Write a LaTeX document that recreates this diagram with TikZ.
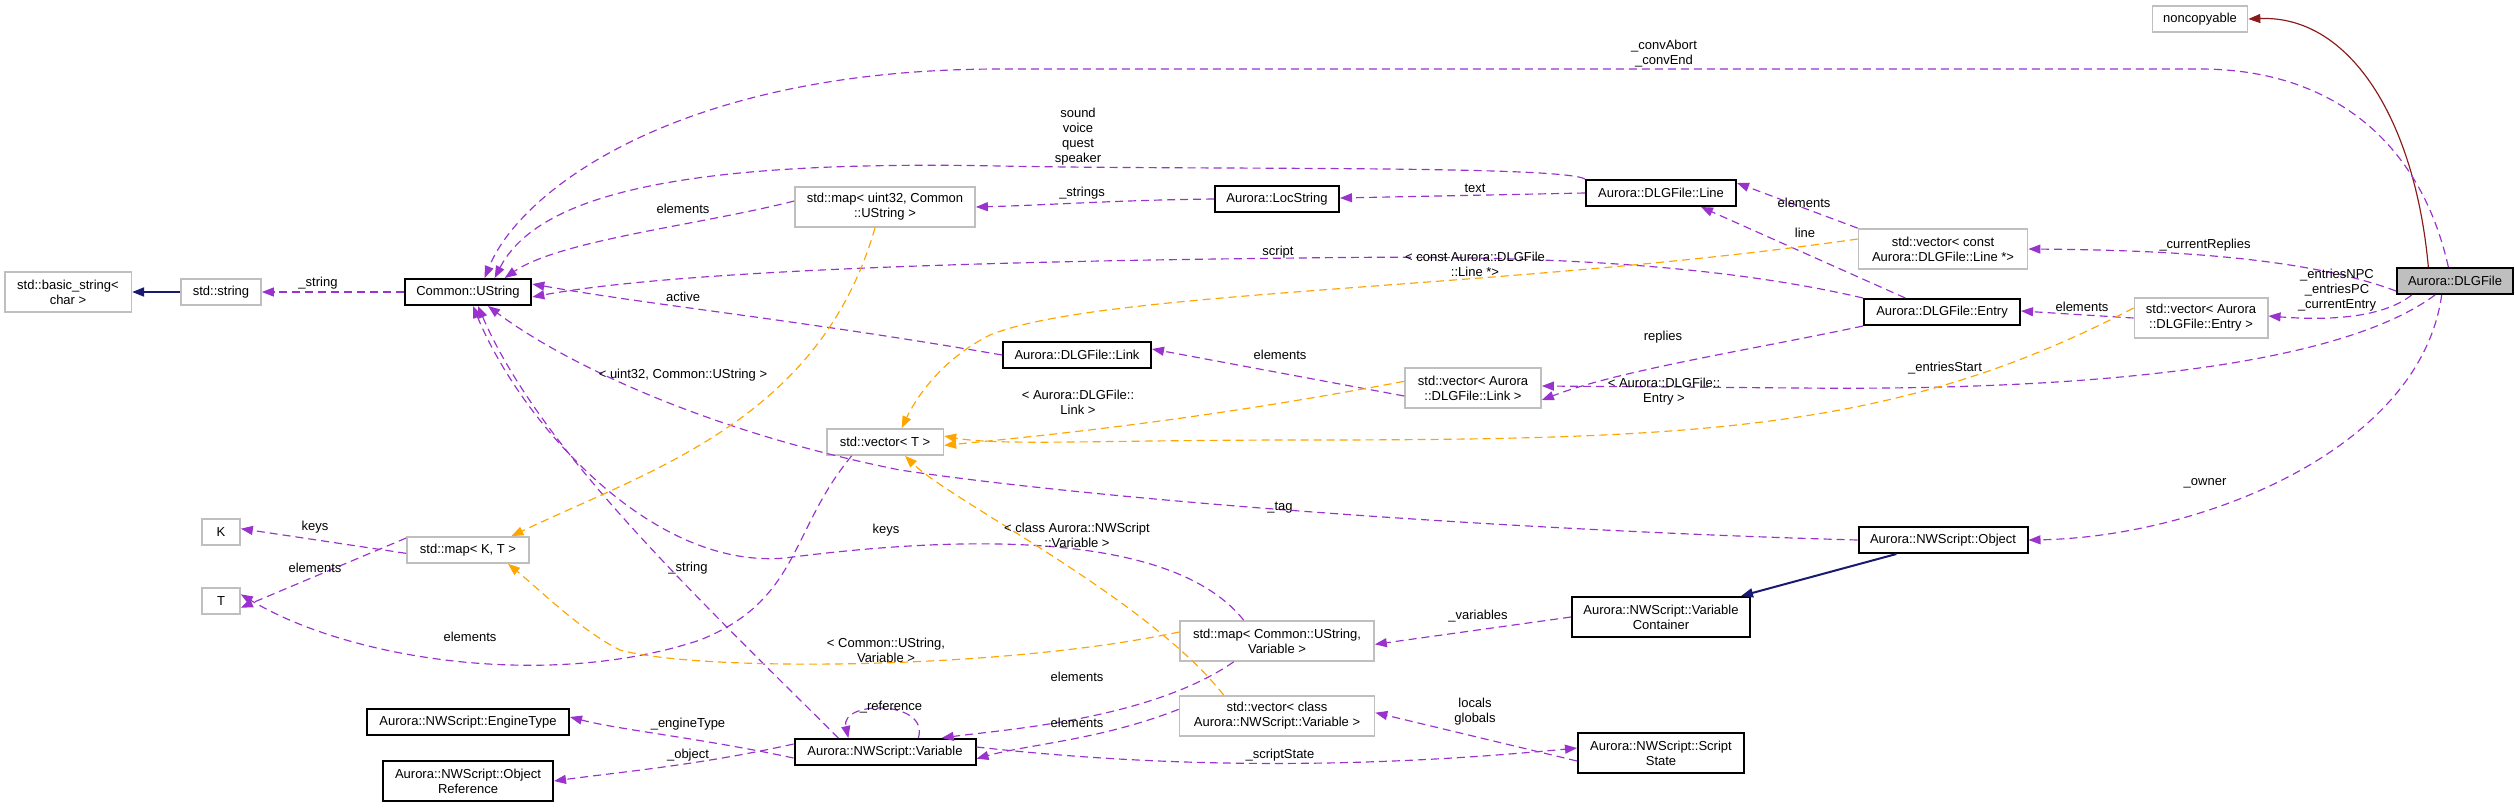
\documentclass[tikz,border=0pt]{standalone}
\usepackage{fontspec}
\setmainfont{Liberation Sans}
\usetikzlibrary{arrows.meta}
\definecolor{usecol}{HTML}{9A32CD}
\definecolor{tplcol}{HTML}{FFA500}
\definecolor{inhcol}{HTML}{191970}
\definecolor{privcol}{HTML}{8B1A1A}
\definecolor{boxgray}{HTML}{BFBFBF}
\newcommand{\lblfont}{\fontsize{3.9}{4.5}\selectfont}
\tikzset{every picture/.style={line width=0.35pt}}

\begin{document}
\begin{tikzpicture}[x=0.3pt,y=0.3pt,yscale=-1,
  box/.style={draw,inner sep=0.5pt,minimum height=7.8pt,align=center,font=\lblfont},
  cls/.style={box,draw=black,line width=0.6pt},
  tpl/.style={box,draw=boxgray,line width=0.5pt},
  self/.style={box,draw=black,fill=boxgray,line width=0.6pt},
  tall/.style={minimum height=12pt},
  lab/.style={inner sep=0pt,align=center,font=\lblfont},
  tip/.style={-{Triangle[length=3.6pt,width=2.7pt]}},
  use/.style={tip,draw=usecol,dash pattern={on 2.4pt off 1.5pt}},
  tmpl/.style={tip,draw=tplcol,dash pattern={on 2.4pt off 1.5pt}},
  inh/.style={tip,draw=inhcol,line width=0.6pt},
  priv/.style={tip,draw=privcol}]
	\useasboundingbox (0,0) rectangle (2515,807);
	
	% classes
	\node [tpl,minimum width=28.5pt] (noncop) at (2200,19) {noncopyable};
	\node [self,minimum width=34.8pt] (dlg) at (2455,281) {Aurora::DLGFile};
	\node [tpl,tall,minimum width=38pt] (bstr) at (68,292) {std::basic\_string\textless\\ char \textgreater};
	\node [tpl,minimum width=24pt] (sstr) at (221,292) {std::string};
	\node [cls,minimum width=38pt] (ustr) at (468,292) {Common::UString};
	\node [tpl,tall,minimum width=54pt] (mapu) at (885,207) {std::map\textless{} uint32, Common\\::UString \textgreater};
	\node [tpl,minimum width=35pt] (vecT) at (885,442) {std::vector\textless{} T \textgreater};
	\node [tpl,minimum width=11.4pt] (kk) at (221,532) {K};
	\node [tpl,minimum width=36.6pt] (mapkt) at (468,550) {std::map\textless{} K, T \textgreater};
	\node [tpl,minimum width=11.4pt] (tt) at (221,601) {T};
	\node [cls,minimum width=60.6pt] (etype) at (468,722) {Aurora::NWScript::EngineType};
	\node [cls,tall,minimum width=51pt] (oref) at (468,781) {Aurora::NWScript::Object\\Reference};
	\node [cls,minimum width=54.3pt] (var) at (885,752) {Aurora::NWScript::Variable};
	\node [cls,minimum width=37.2pt] (loc) at (1277,199) {Aurora::LocString};
	\node [cls,minimum width=45pt] (line) at (1661,193) {Aurora::DLGFile::Line};
	\node [tpl,tall,minimum width=50.7pt] (vline) at (1943,249) {std::vector\textless{} const\\ Aurora::DLGFile::Line *\textgreater};
	\node [cls,minimum width=46.8pt] (entry) at (1942,312) {Aurora::DLGFile::Entry};
	\node [tpl,tall,minimum width=40pt] (ventry) at (2201,318) {std::vector\textless{} Aurora\\::DLGFile::Entry \textgreater};
	\node [cls,minimum width=44.4pt] (link) at (1077,355) {Aurora::DLGFile::Link};
	\node [tpl,tall,minimum width=40.8pt] (vlink) at (1473,388) {std::vector\textless{} Aurora\\::DLGFile::Link \textgreater};
	\node [cls,minimum width=50.7pt] (obj) at (1943,540) {Aurora::NWScript::Object};
	\node [cls,tall,minimum width=53.4pt] (vcont) at (1661,617) {Aurora::NWScript::Variable\\Container};
	\node [tpl,tall,minimum width=58.2pt] (mapv) at (1277,641) {std::map\textless{} Common::UString,\\ Variable \textgreater};
	\node [tpl,tall,minimum width=58.5pt] (vvar) at (1277,716) {std::vector\textless{} class\\ Aurora::NWScript::Variable \textgreater};
	\node [cls,tall,minimum width=49.8pt] (sstate) at (1661,753) {Aurora::NWScript::Script\\State};
	
	% inheritance
	\draw [priv] ([xshift=-8pt]dlg.north) .. controls (2415,120) and (2350,15) .. (noncop.east);
	\draw [inh] (sstr.west) -- (bstr.east);
	\draw [inh] ([xshift=-14pt]obj.south) -- ([xshift=24pt]vcont.north);
	
	% usage
	\draw [use] ([xshift=-2pt]dlg.north) .. controls (2420,140) and (2330,69) .. (2200,69) -- (1000,69) .. controls (680,69) and (520,190) .. ([xshift=5pt]ustr.north);
	\draw [use] (line.north west) .. controls (1560,165) and (1200,170) .. (1000,166) .. controls (700,160) and (540,190) .. ([xshift=8pt]ustr.north);
	\draw [use] (loc.west) .. controls (1120,200) and (1050,205) .. (mapu.east);
	\draw [use] ([yshift=-1.8pt]mapu.west) .. controls (700,225) and (560,240) .. ([xshift=11pt]ustr.north);
	\draw [use] (line.west) -- ([yshift=-0.3pt]loc.east);
	\draw [use] (vline.north west) -- ([yshift=-3pt]line.east);
	\draw [use] ([xshift=-11pt]entry.north) -- ([xshift=12pt]line.south);
	\draw [use] ([yshift=3pt]dlg.west) .. controls (2300,255) and (2150,250) .. (vline.east);
	\draw [use] (entry.north west) .. controls (1700,260) and (1500,255) .. (1300,258) .. controls (900,262) and (650,275) .. ([yshift=1.5pt]ustr.east);
	\draw [use] (entry.south west) .. controls (1750,350) and (1620,370) .. ([yshift=3.6pt]vlink.east);
	\draw [use] (ventry.west) -- ([yshift=-0.3pt]entry.east);
	\draw [use] ([xshift=-13pt]dlg.south) .. controls (2380,320) and (2320,320) .. ([yshift=-0.6pt]ventry.east);
	\draw [use] ([xshift=-6pt]dlg.south) .. controls (2320,380) and (2000,390) .. (1800,388) -- ([yshift=-0.6pt]vlink.east);
	\draw [use] ([yshift=2.4pt]vlink.west) -- ([yshift=-1.8pt]link.east);
	\draw [use] (link.west) .. controls (800,320) and (650,305) .. ([yshift=-2.4pt]ustr.east);
	\draw [use] (obj.west) .. controls (1500,530) and (1100,500) .. (900,470) .. controls (700,430) and (560,360) .. ([xshift=6pt]ustr.south);
	\draw [use] ([xshift=-4pt]dlg.south) .. controls (2420,450) and (2200,537) .. (obj.east);
	\draw [use] (vcont.west) -- ([yshift=1pt]mapv.east);
	\draw [use] ([xshift=-10pt]mapv.north) .. controls (1180,540) and (1000,530) .. (785,558) .. controls (650,570) and (520,420) .. ([xshift=1.5pt]ustr.south);
	\draw [use] ([xshift=-13pt]mapv.south) .. controls (1150,720) and (1000,730) .. ([xshift=17pt]var.north);
	\draw [use] ([yshift=-2pt]vvar.west) .. controls (1100,740) and (1030,744) .. ([yshift=2pt]var.east);
	\draw [use] ([yshift=2.4pt]sstate.west) -- ([yshift=-1pt]vvar.east);
	\draw [use] ([yshift=-1.5pt]var.east) .. controls (1200,772) and (1400,765) .. ([yshift=-1.5pt]sstate.west);
	\draw [use] ([yshift=1.8pt]var.west) .. controls (700,738) and (620,730) .. ([yshift=-1.5pt]etype.east);
	\draw [use] ([yshift=-2.4pt]var.west) .. controls (700,765) and (620,772) .. (oref.east);
	\draw [use] ([xshift=10pt]var.north) .. controls (930,700) and (840,700) .. ([xshift=-11pt]var.north);
	\draw [use] ([xshift=-14pt]var.north) .. controls (700,600) and (540,450) .. ([xshift=3pt]ustr.south);
	\draw [use] ([xshift=-10pt]vecT.south) .. controls (790,530) and (800,600) .. (700,640) .. controls (550,690) and (350,660) .. ([yshift=-2pt]tt.east);
	\draw [use] ([yshift=1pt]mapkt.west) -- ([yshift=-1pt]kk.east);
	\draw [use] ([yshift=-3.6pt]mapkt.west) -- ([yshift=2pt]tt.east);
	\draw [use] (ustr.west) -- (sstr.east);
	
	% template instances
	\draw [tmpl] ([yshift=-3pt]vline.west) .. controls (1500,290) and (1100,290) .. (990,335) .. controls (940,360) and (915,400) .. ([xshift=5pt]vecT.north);
	\draw [tmpl] ([yshift=-3pt]ventry.west) .. controls (1900,430) and (1700,440) .. (1300,440) .. controls (1100,440) and (1000,446) .. ([yshift=-1.8pt]vecT.east);
	\draw [tmpl] ([yshift=-2pt]vlink.west) .. controls (1200,420) and (1050,435) .. ([yshift=1pt]vecT.east);
	\draw [tmpl] ([yshift=-2.7pt]mapv.west) .. controls (1000,670) and (700,672) .. (620,650) .. controls (580,630) and (540,590) .. ([xshift=12pt]mapkt.south);
	\draw [tmpl] ([xshift=-16pt]vvar.north) .. controls (1150,600) and (950,500) .. ([xshift=6pt]vecT.south);
	\draw [tmpl] ([xshift=-3pt]mapu.south) .. controls (820,420) and (650,470) .. ([xshift=13pt]mapkt.north);
	
	% edge labels
	\node [lab] (l1) at (1664,54) {\_convAbort\\\_convEnd};
	\node [lab] (l2) at (1078,137) {sound\\voice\\quest\\speaker};
	\node [lab] (l3) at (1082,193) {\_strings};
	\node [lab] (l4) at (683,209) {elements};
	\node [lab] (l5) at (1475,188) {text};
	\node [lab] (l6) at (1804,203) {elements};
	\node [lab] (l7) at (1805,233) {line};
	\node [lab] (l8) at (2205,245) {\_currentReplies};
	\node [lab] (l9) at (1475,264) {\textless{} const Aurora::DLGFile\\::Line *\textgreater};
	\node [lab] (l10) at (1278,252) {script};
	\node [lab] (l11) at (1663,337) {replies};
	\node [lab] (l12) at (2082,307) {elements};
	\node [lab] (l13) at (2337,290) {\_entriesNPC\\\_entriesPC\\\_currentEntry};
	\node [lab] (l14) at (1945,368) {\_entriesStart};
	\node [lab] (l15) at (1664,392) {\textless{} Aurora::DLGFile::\\Entry \textgreater};
	\node [lab] (l16) at (1280,355) {elements};
	\node [lab] (l17) at (1078,402) {\textless{} Aurora::DLGFile::\\Link \textgreater};
	\node [lab] (l18) at (683,297) {active};
	\node [lab] (l19) at (1280,508) {\_tag};
	\node [lab] (l20) at (2205,483) {\_owner};
	\node [lab] (l21) at (1478,616) {\_variables};
	\node [lab] (l22) at (886,650) {\textless{} Common::UString,\\Variable \textgreater};
	\node [lab] (l23) at (1077,535) {\textless{} class Aurora::NWScript\\::Variable \textgreater};
	\node [lab] (l24) at (886,530) {keys};
	\node [lab] (l25) at (1077,677) {elements};
	\node [lab] (l26) at (1077,723) {elements};
	\node [lab] (l27) at (1475,712) {locals\\globals};
	\node [lab] (l28) at (1280,755) {\_scriptState};
	\node [lab] (l29) at (688,724) {\_engineType};
	\node [lab] (l30) at (688,755) {\_object};
	\node [lab] (l31) at (891,707) {\_reference};
	\node [lab] (l32) at (688,568) {\_string};
	\node [lab] (l33) at (470,637) {elements};
	\node [lab] (l34) at (315,527) {keys};
	\node [lab] (l35) at (315,568) {elements};
	\node [lab] (l36) at (683,375) {\textless{} uint32, Common::UString \textgreater};
	\node [lab] (l37) at (318,283) {\_string};
	
\end{tikzpicture}
\end{document}
